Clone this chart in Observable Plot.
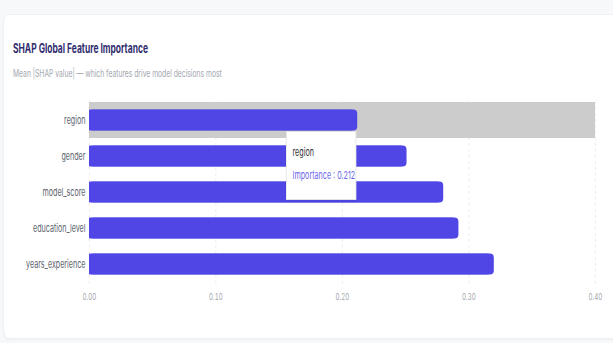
<!DOCTYPE html>
<html>
<head>
<meta charset="utf-8">
<script src="https://cdn.jsdelivr.net/npm/d3@7"></script>
<script src="https://cdn.jsdelivr.net/npm/@observablehq/plot@0.6"></script>
<style>
  html, body { margin: 0; padding: 0; background: #f7f8fa; overflow: hidden; }
  body { width: 613px; height: 343px; position: relative; font-family: Inter, "Noto Sans", sans-serif; }
  #stage { position: absolute; left: 0; top: 0; width: 943px; height: 343px; transform: scale(0.65, 1); transform-origin: 0 0; }
  #card { position: absolute; left: 4.6px; top: 14px; width: 960px; height: 323px; background: #fff; border: 1px solid #eceef1; border-radius: 9px; box-shadow: 0 1px 3px rgba(0,0,0,0.04); }
  #title { position: absolute; left: 20px; top: 42px; font-size: 13px; line-height: 13px; font-weight: 700; color: #312e6e; white-space: nowrap; }
  #subtitle { position: absolute; left: 20px; top: 69px; font-size: 10.4px; line-height: 10px; color: #a3a7b0; white-space: nowrap; }
  #plot { position: absolute; left: 0; top: 95px; }
  #tip { position: absolute; background: #fff; border: 1px solid #e2e2e2; box-shadow: 0 1px 3px rgba(0,0,0,0.06); box-sizing: border-box; }
  #tip .name { position: absolute; left: 9px; top: 15px; font-size: 11px; line-height: 11px; color: #333; white-space: nowrap; }
  #tip .val { position: absolute; left: 9px; top: 38px; font-size: 11px; line-height: 11px; color: #6d68ec; white-space: nowrap; }
</style>
</head>
<body>
<div id="stage">
  <div id="card"></div>
  <div id="title">SHAP Global Feature Importance</div>
  <div id="subtitle">Mean |SHAP value| — which features drive model decisions most</div>
  <div id="plot"></div>
  <div id="tip"><div class="name"></div><div class="val"></div></div>
</div>
<script>
const features = ["region", "gender", "model_score", "education_level", "years_experience"];
const importance = [0.212, 0.251, 0.280, 0.292, 0.320];
const xTicks = [0, 0.1, 0.2, 0.3, 0.4];
const activeFeature = "region";

const data = features.map((f, i) => ({feature: f, value: importance[i]}));
const active = data.filter(d => d.feature === activeFeature);
const xMax = xTicks[xTicks.length - 1];
const barColor = "#4f46e5";
const inset = 7.6;

const chart = Plot.plot({
  width: 943,
  height: 215,
  marginLeft: 137,
  marginRight: 27.6,
  marginTop: 5.8,
  marginBottom: 26.1,
  style: {fontFamily: "Inter, sans-serif", background: "transparent"},
  x: {domain: [0, xMax], ticks: xTicks, tickFormat: d3.format(".2f"), tickSize: 0, tickPadding: 9, label: null},
  y: {domain: features, padding: 0, tickSize: 0, tickPadding: 6, label: null},
  marks: [
    Plot.gridX(xTicks, {stroke: "#e8e8e8", strokeOpacity: 1, strokeDasharray: "3,3"}),
    Plot.barX(active, {y: "feature", x1: 0, x2: xMax, fill: "#cccccc"}),
    Plot.barX(data, {y: "feature", x: "value", fill: barColor, insetTop: inset, insetBottom: inset, rx: 6, ry: 4}),
    Plot.barX(data, {y: "feature", x: "value", fill: barColor, insetTop: inset, insetBottom: inset, insetRight: 8}),
    Plot.axisX({ticks: xTicks, tickFormat: d3.format(".2f"), tickSize: 0, tickPadding: 9, fontSize: 9.5, fill: "#a0a4ab", label: null}),
    Plot.axisY({tickSize: 0, tickPadding: 6, fontSize: 11, fill: "#60656f", label: null})
  ]
});
document.getElementById("plot").appendChild(chart);

// tooltip placed from the chart's own scales
const xs = chart.scale("x"), ys = chart.scale("y");
const a = active[0];
const tipW = 108, tipH = 69;
const barBottom = 95 + ys.apply(a.feature) + ys.bandwidth - inset;
const tip = document.getElementById("tip");
tip.style.width = tipW + "px";
tip.style.height = tipH + "px";
tip.style.left = (xs.apply(a.value) - tipW - 1.5) + "px";
tip.style.top = (barBottom + 0.5) + "px";
tip.querySelector(".name").textContent = a.feature;
tip.querySelector(".val").textContent = "Importance : " + a.value;
</script>
</body>
</html>
